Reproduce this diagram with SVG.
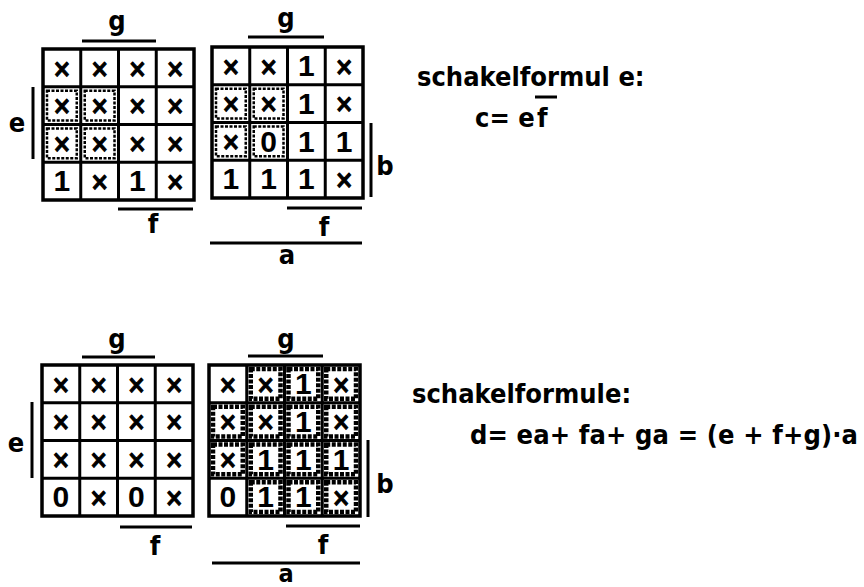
<svg xmlns="http://www.w3.org/2000/svg" width="864" height="587" viewBox="0 0 864 587">
<style>
.bg{fill:#fff}
.frame{fill:#fff;stroke:#000;stroke-width:3.5}
.gl{stroke:#000;stroke-width:3}
.bar{stroke:#000;stroke-width:3;fill:none}
.grp{fill:none;stroke:#000;stroke-width:2.5;stroke-dasharray:3 1.5}
.grp2{fill:none;stroke:#000;stroke-width:4.5;stroke-dasharray:4 1.5}
text{font-family:"DejaVu Sans Condensed","DejaVu Sans",sans-serif;font-weight:bold;fill:#000}
.x{font-size:25px;text-anchor:middle;stroke:#000;stroke-width:0.9}
.d{font-family:"Liberation Sans Narrow","Liberation Sans",sans-serif;font-size:30px;text-anchor:middle}
.lbl{font-size:27px;text-anchor:middle}
.txt{font-size:27px}
</style>
<defs>
<g id="grid">
<rect class="frame" x="0" y="0" width="151" height="151"/>
<line class="gl" x1="37.75" y1="0" x2="37.75" y2="151"/>
<line class="gl" x1="75.5" y1="0" x2="75.5" y2="151"/>
<line class="gl" x1="113.25" y1="0" x2="113.25" y2="151"/>
<line class="gl" x1="0" y1="37.75" x2="151" y2="37.75"/>
<line class="gl" x1="0" y1="75.5" x2="151" y2="75.5"/>
<line class="gl" x1="0" y1="113.25" x2="151" y2="113.25"/>
</g>
</defs>
<rect class="bg" x="0" y="0" width="864" height="587"/>

<g id="map-c">
<g transform="translate(43,49)">
<use href="#grid"/>
<rect class="grp" x="4" y="41.75" width="29.75" height="29.75"/>
<rect class="grp" x="41.75" y="41.75" width="29.75" height="29.75"/>
<rect class="grp" x="4" y="79.5" width="29.75" height="29.75"/>
<rect class="grp" x="41.75" y="79.5" width="29.75" height="29.75"/>
<text class="x" x="18.9" y="27.5">×</text><text class="x" x="56.6" y="27.5">×</text><text class="x" x="94.4" y="27.5">×</text><text class="x" x="132.1" y="27.5">×</text>
<text class="x" x="18.9" y="65.25">×</text><text class="x" x="56.6" y="65.25">×</text><text class="x" x="94.4" y="65.25">×</text><text class="x" x="132.1" y="65.25">×</text>
<text class="x" x="18.9" y="103">×</text><text class="x" x="56.6" y="103">×</text><text class="x" x="94.4" y="103">×</text><text class="x" x="132.1" y="103">×</text>
<text class="d" x="18.9" y="141.5">1</text><text class="x" x="56.6" y="140.75">×</text><text class="d" x="94.4" y="141.5">1</text><text class="x" x="132.1" y="140.75">×</text>
</g>
<line class="bar" x1="82" y1="41" x2="156" y2="41"/>
<text class="lbl" x="117" y="30">g</text>
<line class="bar" x1="33" y1="87" x2="33" y2="159"/>
<text class="lbl" x="17" y="132">e</text>
<line class="bar" x1="118" y1="209" x2="193" y2="209"/>
<text class="lbl" x="153" y="233">f</text>
</g>

<g id="map-c2">
<g transform="translate(212,47)">
<use href="#grid"/>
<rect class="grp" x="4" y="41.75" width="29.75" height="29.75"/>
<rect class="grp" x="41.75" y="41.75" width="29.75" height="29.75"/>
<rect class="grp" x="4" y="79.5" width="29.75" height="29.75"/>
<rect class="grp" x="41.75" y="79.5" width="29.75" height="29.75"/>
<text class="x" x="18.9" y="27.5">×</text><text class="x" x="56.6" y="27.5">×</text><text class="d" x="94.4" y="29">1</text><text class="x" x="132.1" y="27.5">×</text>
<text class="x" x="18.9" y="65.25">×</text><text class="x" x="56.6" y="65.25">×</text><text class="d" x="94.4" y="66.75">1</text><text class="x" x="132.1" y="65.25">×</text>
<text class="x" x="18.9" y="103">×</text><text class="d" x="56.6" y="104.5">0</text><text class="d" x="94.4" y="104.5">1</text><text class="d" x="132.1" y="104.5">1</text>
<text class="d" x="18.9" y="141.5">1</text><text class="d" x="56.6" y="141.5">1</text><text class="d" x="94.4" y="141.5">1</text><text class="x" x="132.1" y="140.75">×</text>
</g>
<line class="bar" x1="248" y1="37" x2="324" y2="37"/>
<text class="lbl" x="286" y="27">g</text>
<line class="bar" x1="371" y1="123" x2="371" y2="197"/>
<text class="lbl" x="385" y="175">b</text>
<line class="bar" x1="287" y1="208" x2="362" y2="208"/>
<text class="lbl" x="324" y="236">f</text>
<line class="bar" x1="210" y1="243" x2="362" y2="243"/>
<text class="lbl" x="287" y="264">a</text>
</g>

<g id="map-d">
<g transform="translate(42,365)">
<use href="#grid"/>
<text class="x" x="18.9" y="27.5">×</text><text class="x" x="56.6" y="27.5">×</text><text class="x" x="94.4" y="27.5">×</text><text class="x" x="132.1" y="27.5">×</text>
<text class="x" x="18.9" y="65.25">×</text><text class="x" x="56.6" y="65.25">×</text><text class="x" x="94.4" y="65.25">×</text><text class="x" x="132.1" y="65.25">×</text>
<text class="x" x="18.9" y="103">×</text><text class="x" x="56.6" y="103">×</text><text class="x" x="94.4" y="103">×</text><text class="x" x="132.1" y="103">×</text>
<text class="d" x="18.9" y="142">0</text><text class="x" x="56.6" y="140.75">×</text><text class="d" x="94.4" y="142">0</text><text class="x" x="132.1" y="140.75">×</text>
</g>
<line class="bar" x1="82" y1="357" x2="155" y2="357"/>
<text class="lbl" x="117" y="348">g</text>
<line class="bar" x1="32" y1="402" x2="32" y2="478"/>
<text class="lbl" x="16" y="452">e</text>
<line class="bar" x1="120" y1="527" x2="192" y2="527"/>
<text class="lbl" x="155" y="555">f</text>
</g>

<g id="map-d2">
<g transform="translate(209,365)">
<use href="#grid"/>
<rect class="grp2" x="41.75" y="4" width="29.75" height="29.75"/>
<rect class="grp2" x="79.5" y="4" width="29.75" height="29.75"/>
<rect class="grp2" x="117.25" y="4" width="29.75" height="29.75"/>
<rect class="grp2" x="4" y="41.75" width="29.75" height="29.75"/>
<rect class="grp2" x="41.75" y="41.75" width="29.75" height="29.75"/>
<rect class="grp2" x="79.5" y="41.75" width="29.75" height="29.75"/>
<rect class="grp2" x="117.25" y="41.75" width="29.75" height="29.75"/>
<rect class="grp2" x="4" y="79.5" width="29.75" height="29.75"/>
<rect class="grp2" x="41.75" y="79.5" width="29.75" height="29.75"/>
<rect class="grp2" x="79.5" y="79.5" width="29.75" height="29.75"/>
<rect class="grp2" x="117.25" y="79.5" width="29.75" height="29.75"/>
<rect class="grp2" x="41.75" y="117.25" width="29.75" height="29.75"/>
<rect class="grp2" x="79.5" y="117.25" width="29.75" height="29.75"/>
<rect class="grp2" x="117.25" y="117.25" width="29.75" height="29.75"/>
<text class="x" x="18.9" y="27.5">×</text><text class="x" x="56.6" y="27.5">×</text><text class="d" x="94.4" y="29">1</text><text class="x" x="132.1" y="27.5">×</text>
<text class="x" x="18.9" y="65.25">×</text><text class="x" x="56.6" y="65.25">×</text><text class="d" x="94.4" y="66.75">1</text><text class="x" x="132.1" y="65.25">×</text>
<text class="x" x="18.9" y="103">×</text><text class="d" x="56.6" y="104.5">1</text><text class="d" x="94.4" y="104.5">1</text><text class="d" x="132.1" y="104.5">1</text>
<text class="d" x="18.9" y="142">0</text><text class="d" x="56.6" y="141.5">1</text><text class="d" x="94.4" y="141.5">1</text><text class="x" x="132.1" y="140.75">×</text>
</g>
<line class="bar" x1="248" y1="356" x2="323" y2="356"/>
<text class="lbl" x="286" y="348">g</text>
<line class="bar" x1="368" y1="440" x2="368" y2="517"/>
<text class="lbl" x="385" y="493">b</text>
<line class="bar" x1="286" y1="526" x2="360" y2="526"/>
<text class="lbl" x="323" y="554">f</text>
<line class="bar" x1="212" y1="563" x2="360" y2="563"/>
<text class="lbl" x="286" y="582" style="font-size:25px">a</text>
</g>

<g id="formula-c">
<text class="txt" x="417" y="86">schakelformul e:</text>
<text class="txt" x="475" y="127">c= e</text>
<text class="txt" x="537" y="127">f</text>
<line class="bar" x1="535" y1="97" x2="557" y2="97"/>
</g>

<g id="formula-d">
<text class="txt" x="412" y="403">schakelformule:</text>
<text class="txt" x="470" y="444" textLength="388" lengthAdjust="spacing">d= ea+ fa+ ga = (e + f+g)·a</text>
</g>
</svg>
